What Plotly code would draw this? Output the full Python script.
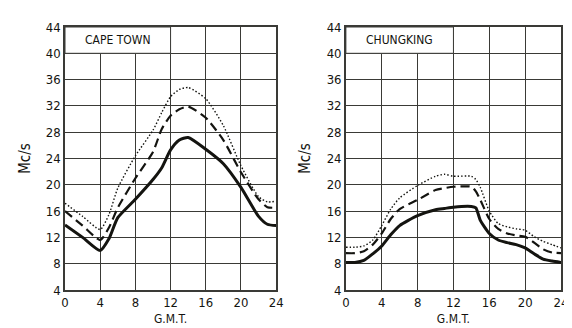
import plotly.graph_objects as go
from plotly.subplots import make_subplots

# G.M.T. hours
hours_cape = [0, 2, 4, 5, 6, 8, 10, 11, 12, 13, 14, 16, 18, 20, 22, 23, 24]
cape_solid = [13.9, 12.0, 10.0, 11.8, 15.0, 17.8, 20.8, 22.6, 25.3, 26.8, 27.2, 25.4, 23.2, 19.6, 15.2, 14.0, 13.8]
cape_dashed = [16.0, 13.8, 11.6, 13.5, 16.5, 21.0, 25.0, 28.5, 30.5, 31.5, 31.9, 30.2, 26.8, 21.9, 17.8, 16.6, 16.5]
cape_dotted = [17.2, 15.2, 13.2, 15.5, 19.5, 24.4, 28.3, 31.0, 33.4, 34.5, 34.8, 33.1, 29.0, 22.9, 18.2, 17.4, 17.5]

hours_chung = [0, 1, 2, 3, 4, 5, 6, 8, 10, 11, 12, 14, 14.5, 15, 16, 17, 18, 19, 20, 21, 22, 23, 24]
chung_solid = [8.2, 8.2, 8.5, 9.5, 10.7, 12.4, 13.8, 15.3, 16.2, 16.4, 16.6, 16.7, 16.5, 14.6, 12.6, 11.6, 11.2, 10.9, 10.4, 9.5, 8.7, 8.4, 8.2]
chung_dashed = [9.6, 9.6, 9.9, 10.9, 12.6, 14.8, 16.3, 17.7, 19.2, 19.5, 19.7, 19.7, 19.0, 17.7, 14.8, 13.3, 12.6, 12.3, 12.1, 11.2, 10.2, 9.7, 9.6]
chung_dotted = [10.5, 10.5, 10.7, 11.6, 13.8, 16.3, 18.0, 19.9, 21.3, 21.6, 21.3, 21.3, 20.8, 19.6, 16.0, 14.1, 13.6, 13.3, 13.1, 12.1, 11.4, 10.9, 10.4]

x_ticks = [0, 4, 8, 12, 16, 20, 24]
y_ticks = [4, 8, 12, 16, 20, 24, 28, 32, 36, 40, 44]

ink = "#141410"
grid = "#3a3a36"
font_family = "DejaVu Sans Condensed, Liberation Sans Narrow, DejaVu Sans, sans-serif"

fig = make_subplots(rows=1, cols=2, horizontal_spacing=0.14)

panels = [
    (1, hours_cape, cape_solid, cape_dashed, cape_dotted, "CAPE TOWN"),
    (2, hours_chung, chung_solid, chung_dashed, chung_dotted, "CHUNGKING"),
]

for col, hrs, solid, dashed, dotted, name in panels:
    fig.add_trace(go.Scatter(x=hrs, y=dotted, mode="lines", line=dict(color=ink, width=1.4, dash="1.5px,2px", shape="spline", smoothing=0.6)), row=1, col=col)
    fig.add_trace(go.Scatter(x=hrs, y=dashed, mode="lines", line=dict(color=ink, width=2.2, dash="9px,5px", shape="spline", smoothing=0.6)), row=1, col=col)
    fig.add_trace(go.Scatter(x=hrs, y=solid, mode="lines", line=dict(color=ink, width=3, shape="spline", smoothing=0.6)), row=1, col=col)
    xref = "x" if col == 1 else "x2"
    yref = "y" if col == 1 else "y2"
    fig.add_shape(type="rect", x0=0, x1=12, y0=40, y1=44, xref=xref, yref=yref,
                  fillcolor="white", line=dict(color=grid, width=1), layer="above")
    fig.add_annotation(x=6, y=42, xref=xref, yref=yref, text=name, showarrow=False,
                       font=dict(size=12, color=ink, family=font_family))

fig.update_xaxes(range=[0, 24], tickvals=x_ticks, showgrid=True, gridcolor=grid, gridwidth=1,
                 showline=True, linecolor=grid, linewidth=1.5, mirror=True, zeroline=False,
                 ticks="", tickfont=dict(size=13, color=ink, family=font_family),
                 title=dict(text="G.M.T.", font=dict(size=12, color=ink, family=font_family), standoff=5))
fig.update_yaxes(range=[4, 44], tickvals=y_ticks, showgrid=True, gridcolor=grid, gridwidth=1,
                 showline=True, linecolor=grid, linewidth=1.5, mirror=True, zeroline=False,
                 ticks="", tickfont=dict(size=13, color=ink, family=font_family),
                 title=dict(text="Mc/s", font=dict(size=15, color=ink, family=font_family), standoff=12))

fig.update_layout(width=572, height=328, margin=dict(l=57, r=17, t=15, b=38),
                  paper_bgcolor="white", plot_bgcolor="white", showlegend=False)
fig.update_layout(xaxis=dict(domain=[0, 0.4257]), xaxis2=dict(domain=[0.5663, 1]))

fig.write_html("out.html")
